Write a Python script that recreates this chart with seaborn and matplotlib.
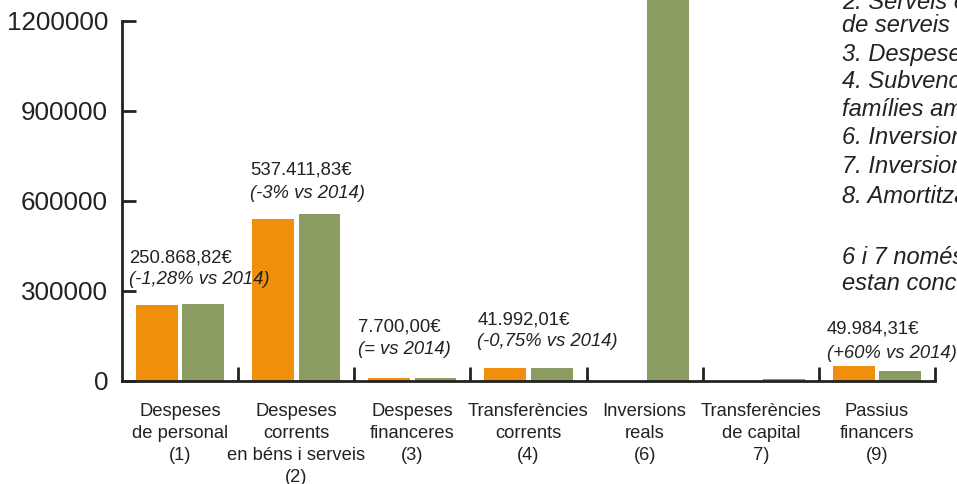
import matplotlib
matplotlib.use("Agg")
import matplotlib.pyplot as plt
import seaborn as sns
import pandas as pd

# ---- data ----
categories = [
    "Despeses\nde personal\n(1)",
    "Despeses\ncorrents\nen béns i serveis\n(2)",
    "Despeses\nfinanceres\n(3)",
    "Transferències\ncorrents\n(4)",
    "Inversions\nreals\n(6)",
    "Transferències\nde capital\n7)",
    "Passius\nfinancers\n(9)",
]
values_2015 = [250868.82, 537411.83, 7700.00, 41992.01, 0, 0, 49984.31]
values_2014 = [254122, 554033, 7700, 42309, 1400000, 6500, 31240]
years = ["2015", "2014"]
ytick_values = [0, 300000, 600000, 900000, 1200000]

ann_cat = [0, 1, 2, 3, 6]
ann_amount = ["250.868,82€", "537.411,83€", "7.700,00€", "41.992,01€", "49.984,31€"]
ann_change = ["(-1,28% vs 2014)", "(-3% vs 2014)", "(= vs 2014)", "(-0,75% vs 2014)", "(+60% vs 2014)"]

side_lines = [
    "2. Serveis exteriors i prestació",
    "de serveis",
    "3. Despeses financeres",
    "4. Subvencions a entitats i",
    "famílies amb necessitats",
    "6. Inversions reals",
    "7. Inversions de capital",
    "8. Amortització de préstecs",
    "",
    "6 i 7 només",
    "estan concedides",
]

# ---- style ----
sns.set_style("white")
plt.rcParams["font.family"] = ["Liberation Sans", "DejaVu Sans"]
ink = "#222222"
colors = {"2015": "#F08F0B", "2014": "#8A9C61"}

df = pd.DataFrame({
    "cat": categories * 2,
    "value": values_2015 + values_2014,
    "year": ["2015"] * len(categories) + ["2014"] * len(categories),
})

W, H = 957, 484
fig = plt.figure(figsize=(W / 100, H / 100), dpi=100)
ax_left, ax_right, ax_zero, ax_top_px = 122, 935, 380.7, 0.0
px_per_unit = 3333.33
ax = fig.add_axes([ax_left / W, (H - ax_zero) / H, (ax_right - ax_left) / W, (ax_zero - ax_top_px) / H])

sns.barplot(data=df, x="cat", y="value", hue="year", hue_order=years,
            palette=colors, saturation=1, width=0.8, gap=0.1, linewidth=0,
            legend=False, ax=ax, order=categories, errorbar=None)

ax.set_xlim(-0.5, len(categories) - 0.5)
ax.set_ylim(0, (ax_zero - ax_top_px) * px_per_unit)

for s in ["top", "right"]:
    ax.spines[s].set_visible(False)
for s in ["left", "bottom"]:
    ax.spines[s].set_linewidth(2)
    ax.spines[s].set_color(ink)
ax.spines["left"].set_bounds(0, 1200000)

ax.set_yticks(ytick_values)
ax.set_yticklabels([str(v) for v in ytick_values], fontsize=18.7, color=ink)
ax.tick_params(axis="y", left=True, direction="in", length=10, width=2, color=ink, pad=10)

ax.set_xticks(range(len(categories)))
ax.set_xticklabels(categories, fontsize=13.2, color=ink, linespacing=1.38)
ax.tick_params(axis="x", which="major", bottom=True, length=0, pad=16)
ax.set_xticks([i + 0.5 for i in range(len(categories))], minor=True)
ax.tick_params(axis="x", which="minor", bottom=True, direction="in", length=10, width=2, color=ink)
ax.set_xlabel("")
ax.set_ylabel("")

# annotations (text positions in pixel rows converted to data)
ann_x_off = [-0.44, -0.40, -0.47, -0.44, -0.43]
ann_rows = [(258, 280), (170, 193), (327, 349), (320, 342), (329, 353)]
for c, a, ch, dx, (r1, r2) in zip(ann_cat, ann_amount, ann_change, ann_x_off, ann_rows):
    ax.text(c + dx, (ax_zero - r1) * px_per_unit, a, fontsize=13.3, color=ink,
            ha="left", va="center", clip_on=False)
    ax.text(c + dx, (ax_zero - r2) * px_per_unit, ch, fontsize=13.3, color=ink,
            style="italic", ha="left", va="center", clip_on=False)

# side note (cropped at the right edge, as in the reference)
side_rows = [3, 26, 54, 82, 110, 138, 167, 196, 226, 257, 283]
for line, r in zip(side_lines, side_rows):
    if line:
        fig.text(842 / W, 1 - r / H, line, fontsize=17, style="italic", color=ink,
                 ha="left", va="center")

fig.savefig("out.png", dpi=100)
